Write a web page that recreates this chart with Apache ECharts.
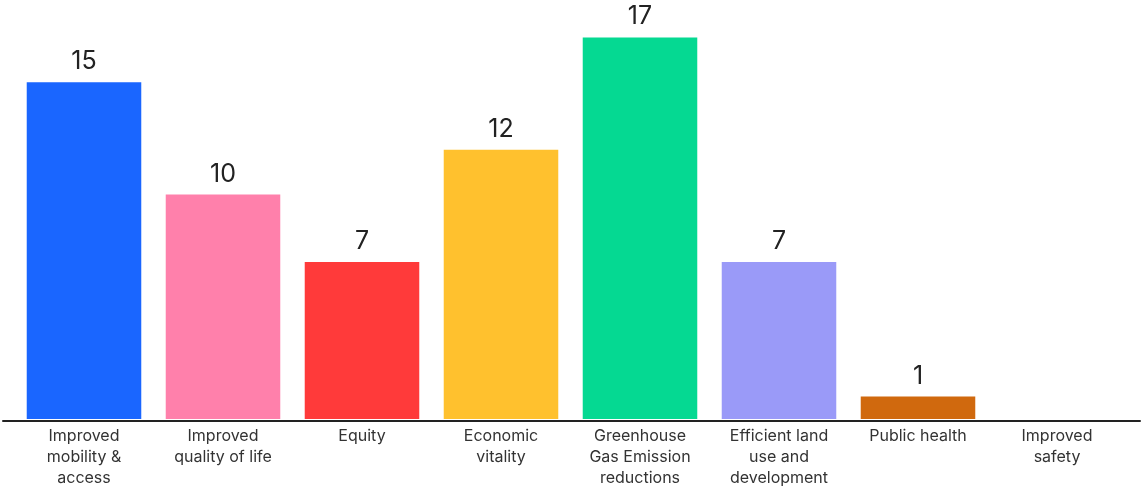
<!DOCTYPE html>
<html>
<head>
<meta charset="utf-8">
<script src="https://cdn.jsdelivr.net/npm/echarts@6/dist/echarts.min.js"></script>
<style>
html,body{margin:0;padding:0;background:#fff;}
#chart{width:1142px;height:489px;}
</style>
</head>
<body>
<div id="chart"></div>
<script>
var categories = [
  "Improved\nmobility &\naccess",
  "Improved\nquality of life",
  "Equity",
  "Economic\nvitality",
  "Greenhouse\nGas Emission\nreductions",
  "Efficient land\nuse and\ndevelopment",
  "Public health",
  "Improved\nsafety"
];
var values = [15, 10, 7, 12, 17, 7, 1, 0];
var barColors = ["#1a66ff", "#ff80ab", "#ff3a3a", "#ffc12e", "#05d992", "#9a9af8", "#d0690e", "#d0690e"];

var chart = echarts.init(document.getElementById('chart'));
var fontFam = "Inter, 'Noto Sans', sans-serif";
chart.setOption({
  animation: false,
  grid: [
    {left: 14.5, right: 15.5, top: 15, bottom: 67},
    {left: 3, right: 2, top: 15, bottom: 68}
  ],
  xAxis: [
    {
      type: 'category', gridIndex: 0, data: categories,
      axisLine: {show: false}, axisTick: {show: false},
      axisLabel: {
        interval: 0, color: '#333', fontSize: 16, lineHeight: 21,
        fontFamily: fontFam, margin: 7, align: 'center'
      }
    },
    {
      type: 'value', gridIndex: 1, min: 0, max: 1,
      axisLine: {show: true, onZero: false, lineStyle: {color: '#222', width: 2}},
      axisTick: {show: false}, axisLabel: {show: false}, splitLine: {show: false}
    }
  ],
  yAxis: [
    {type: 'value', gridIndex: 0, min: 0, max: 18, show: false},
    {type: 'value', gridIndex: 1, min: 0, max: 1, show: false}
  ],
  series: [{
    type: 'bar',
    xAxisIndex: 0, yAxisIndex: 0,
    barCategoryGap: '17.6%',
    z: 1,
    data: values.map(function (v, i) {
      return {value: v, itemStyle: {color: barColors[i]}, label: {show: v > 0}};
    }),
    label: {
      show: true, position: 'top', distance: 8,
      color: '#222', fontSize: 25, fontFamily: fontFam
    }
  }]
});
</script>
</body>
</html>
